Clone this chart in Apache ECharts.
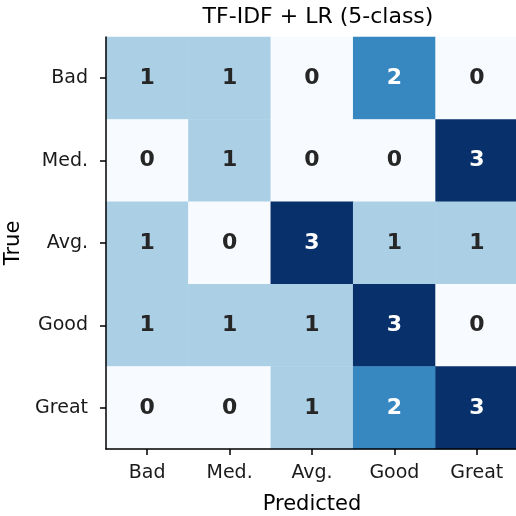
<!DOCTYPE html>
<html>
<head>
<meta charset="utf-8">
<script src="https://cdn.jsdelivr.net/npm/echarts@6/dist/echarts.min.js"></script>
<style>
  html, body { margin: 0; padding: 0; background: #fff; }
  #chart { width: 516px; height: 516px; }
</style>
</head>
<body>
<div id="chart"></div>
<script>
// confusion matrix, rows = true class, cols = predicted class
const predictedLabels = ["Bad", "Med.", "Avg.", "Good", "Great"];
const trueLabels = ["Bad", "Med.", "Avg.", "Good", "Great"];
const rowBad = [1, 1, 0, 2, 0];
const rowMed = [0, 1, 0, 0, 3];
const rowAvg = [1, 0, 3, 1, 1];
const rowGood = [1, 1, 1, 3, 0];
const rowGreat = [0, 0, 1, 2, 3];
const matrix = [rowBad, rowMed, rowAvg, rowGood, rowGreat];

// Blues colormap sampled at 0..3
const blues = ["#f7fbff", "#abd0e6", "#3787c0", "#08306b"];

const font = "DejaVu Sans";
const data = [];
matrix.forEach((row, y) => {
  row.forEach((v, x) => {
    data.push({
      value: [x, y, v],
      label: { color: v >= 2 ? "#ffffff" : "#262626" },
    });
  });
});

const chart = echarts.init(document.getElementById("chart"));
chart.setOption({
  animation: false,
  title: {
    text: "TF-IDF + LR (5-class)",
    left: 313,
    textAlign: "center",
    top: 1,
    textStyle: { fontFamily: font, fontSize: 22, fontWeight: "normal", color: "#000" },
  },
  grid: { left: 106, top: 37, width: 412, height: 412, outerBoundsMode: "none", containLabel: false },
  xAxis: {
    type: "category",
    data: predictedLabels,
    z: 5,
    name: "Predicted",
    nameLocation: "middle",
    nameGap: 45,
    nameTextStyle: { fontFamily: font, fontSize: 21, color: "#000" },
    axisLine: { show: true, lineStyle: { color: "#000", width: 1.5 } },
    axisTick: { show: true, alignWithLabel: true, length: 6, lineStyle: { color: "#000", width: 1.5 } },
    axisLabel: { fontFamily: font, fontSize: 19, color: "#1a1a1a", margin: 15 },
    splitLine: { show: false },
  },
  yAxis: {
    type: "category",
    data: trueLabels,
    inverse: true,
    z: 5,
    name: "True",
    nameLocation: "middle",
    nameGap: 82,
    nameTextStyle: { fontFamily: font, fontSize: 21, color: "#000" },
    axisLine: { show: true, lineStyle: { color: "#000", width: 1.5 } },
    axisTick: { show: true, alignWithLabel: true, length: 6, lineStyle: { color: "#000", width: 1.5 } },
    axisLabel: { fontFamily: font, fontSize: 19, color: "#1a1a1a", margin: 18 },
    splitLine: { show: false },
  },
  visualMap: {
    show: false,
    type: "piecewise",
    dimension: 2,
    pieces: [
      { value: 0, color: blues[0] },
      { value: 1, color: blues[1] },
      { value: 2, color: blues[2] },
      { value: 3, color: blues[3] },
    ],
  },
  series: [
    {
      type: "heatmap",
      data: data,
      label: {
        show: true,
        formatter: (p) => String(p.value[2]),
        fontFamily: font,
        fontSize: 22,
        fontWeight: "bold",
      },
      itemStyle: { borderWidth: 0 },
      emphasis: { disabled: true },
    },
  ],
});
</script>
</body>
</html>
